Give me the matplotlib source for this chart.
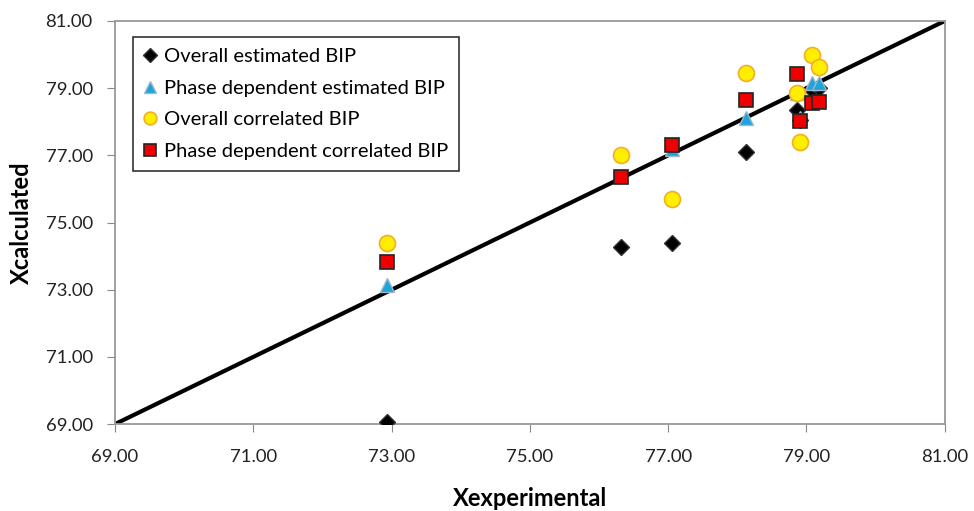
import matplotlib.pyplot as plt
import numpy as np

plt.rcParams['font.family'] = ['Lato', 'DejaVu Sans']

x_exp = [72.93, 76.32, 77.05, 78.12, 78.86, 78.91, 79.08, 79.18]
overall_est = [69.05, 74.27, 74.39, 77.10, 78.35, 78.05, 78.95, 79.00]
phase_est = [73.14, 76.40, 77.20, 78.10, 78.85, 78.10, 79.15, 79.15]
overall_cor = [74.39, 77.01, 75.70, 79.45, 78.86, 77.41, 79.99, 79.64]
phase_cor = [73.82, 76.36, 77.31, 78.65, 79.42, 78.03, 78.57, 78.60]

ticks = [69, 71, 73, 75, 77, 79, 81]

fig = plt.figure(figsize=(9.74, 5.11), dpi=100)
ax = fig.add_axes([0.118, 0.170, 0.852, 0.789])

# parity line
ax.plot([69, 81], [69, 81], color='black', lw=3, zorder=2)

ax.plot(x_exp, overall_est, 'D', ms=8.5, color='black', mec='#333333',
        label='Overall estimated BIP', zorder=3)
ax.plot(x_exp, phase_est, '^', ms=10, color='#1fa3dc', mec='#9fb8c8', mew=1,
        label='Phase dependent estimated BIP', zorder=4)
ax.plot(x_exp, overall_cor, 'o', ms=11.5, color='#ffee00', mec='#f0b020', mew=1.2,
        label='Overall correlated BIP', zorder=5)
ax.plot(x_exp, phase_cor, 's', ms=10, color='#ee0000', mec='#222222', mew=1.2,
        label='Phase dependent correlated BIP', zorder=6)

ax.set_xlim(69, 81)
ax.set_ylim(69, 81)
ax.set_xticks(ticks)
ax.set_yticks(ticks)
ax.set_xticklabels([f'{t:.2f}' for t in ticks])
ax.set_yticklabels([f'{t:.2f}' for t in ticks])
ax.tick_params(labelsize=13.3, length=6, color='#888888', labelcolor='#222222')
ax.tick_params(axis='x', pad=12)
ax.tick_params(axis='y', pad=10)

for s in ax.spines.values():
    s.set_color('#999999')
    s.set_linewidth(1.3)

ax.set_xlabel('Xexperimental', fontsize=17, fontweight='bold')
ax.set_ylabel('Xcalculated', fontsize=17, fontweight='bold')
ax.xaxis.set_label_coords(0.5, -0.155)
ax.yaxis.set_label_coords(-0.099, 0.5)

leg = ax.legend(loc='upper left', bbox_to_anchor=(0.0217, 0.96), borderaxespad=0,
                fontsize=14.5, frameon=True, fancybox=False, edgecolor='black',
                markerscale=0.8, handlelength=0.6, handletextpad=0.4,
                borderpad=0.55, labelspacing=0.72)
leg.get_frame().set_linewidth(1.2)

fig.savefig('out.png', dpi=100)
